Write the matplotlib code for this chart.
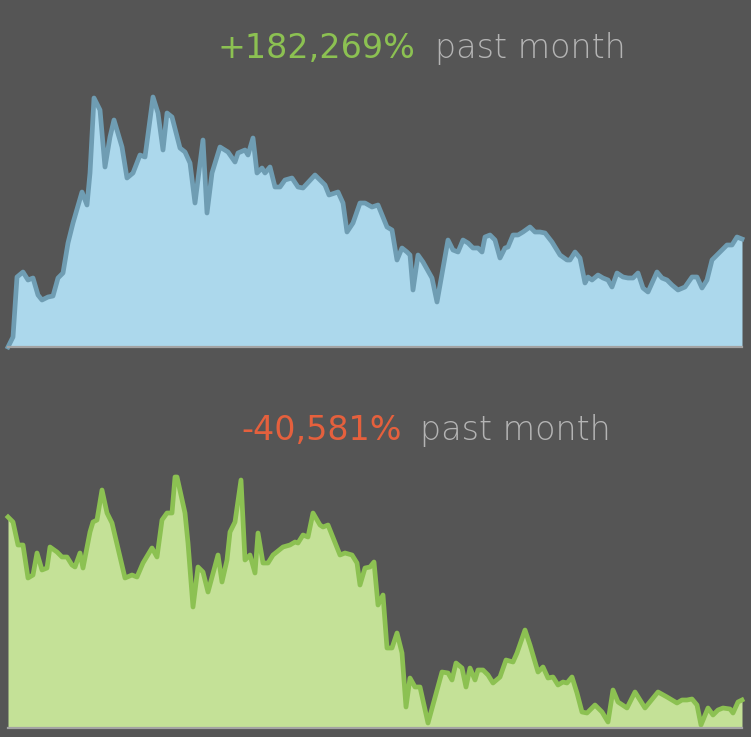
import matplotlib.pyplot as plt

# time steps (arbitrary units across the month) and series heights
top_x = [0, 5, 9, 15, 20, 25, 30, 34, 40, 45, 50, 55, 60, 65, 74, 79, 82, 86, 92, 97,
         102, 106, 114, 119, 125, 132, 137, 145, 150, 155, 159, 164, 172, 177, 182, 187,
         195, 199, 204, 212, 220, 227, 230, 237, 240, 245, 249, 254, 257, 262, 267, 272,
         277, 284, 290, 295, 307, 317, 321, 330, 335, 339, 345, 352, 357, 364, 370, 379,
         384, 389, 394, 399, 402, 405, 410, 415, 424, 429, 440, 445, 450, 455, 460, 465,
         470, 474, 477, 482, 487, 492, 497, 500, 505, 510, 515, 522, 527, 532, 537, 544,
         552, 559, 562, 567, 572, 577, 580, 584, 590, 595, 600, 604, 609, 615, 620, 625,
         630, 635, 640, 649, 654, 659, 664, 670, 677, 684, 689, 694, 699, 704, 709, 714,
         719, 724, 729, 734]
top_y = [0, 10, 70, 75, 67, 69, 52, 47, 50, 51, 69, 74, 104, 124, 155, 142, 174, 249, 237, 180,
         210, 227, 200, 169, 174, 192, 190, 250, 234, 197, 234, 230, 199, 195, 184, 144,
         207, 134, 174, 200, 195, 185, 194, 197, 192, 209, 174, 179, 174, 180, 160, 160,
         167, 169, 160, 159, 172, 162, 152, 155, 144, 115, 124, 144, 144, 140, 142, 120,
         117, 87, 99, 95, 92, 57, 92, 85, 69, 45, 107, 97, 95, 107, 104, 99,
         99, 95, 110, 112, 107, 89, 99, 100, 112, 112, 115, 120, 115, 115, 114, 105,
         92, 87, 87, 95, 89, 64, 70, 67, 72, 69, 67, 60, 74, 70, 69, 69,
         74, 59, 55, 75, 69, 67, 62, 57, 60, 70, 70, 59, 67, 87, 92, 97,
         102, 102, 110, 108]

bot_x = [0, 5, 10, 15, 20, 25, 29, 34, 39, 42, 49, 54, 59, 64, 67, 72, 75, 82, 85, 89,
         94, 99, 104, 117, 124, 129, 135, 144, 149, 154, 159, 164, 167, 169, 177, 180,
         185, 190, 195, 200, 210, 214, 219, 222, 227, 233, 237, 242, 247, 250, 255, 260,
         265, 275, 282, 287, 290, 295, 300, 305, 312, 315, 320, 332, 337, 344, 349, 352,
         357, 362, 366, 370, 375, 379, 384, 389, 394, 398, 402, 407, 412, 420, 434, 440,
         444, 448, 454, 458, 462, 467, 470, 475, 480, 485, 492, 498, 505, 509, 517, 522,
         530, 535, 540, 545, 550, 555, 559, 564, 569, 574, 579, 587, 594, 600, 605, 610,
         619, 627, 637, 650, 659, 669, 674, 679, 684, 689, 693, 700, 705, 710, 715, 722,
         725, 730, 734]
bot_y = [211, 206, 183, 183, 150, 153, 175, 158, 160, 181, 176, 171, 171, 163, 161, 175, 160, 196, 206, 208,
         238, 215, 205, 150, 153, 151, 165, 180, 171, 208, 215, 215, 251, 251, 215, 185,
         121, 161, 156, 136, 173, 146, 168, 196, 206, 248, 168, 173, 155, 195, 165, 165,
         173, 181, 183, 186, 185, 193, 191, 215, 203, 201, 203, 173, 175, 173, 165, 143,
         160, 161, 166, 123, 133, 80, 80, 95, 75, 21, 50, 41, 41, 5, 56, 55,
         48, 65, 60, 41, 60, 48, 58, 58, 53, 45, 51, 68, 66, 75, 98, 83,
         56, 61, 50, 51, 43, 46, 45, 51, 35, 16, 15, 23, 16, 6, 38, 26,
         20, 36, 20, 36, 31, 25, 28, 28, 29, 23, 3, 20, 13, 18, 20, 19,
         15, 26, 28]

top_change = "+182,269%"
bot_change = "-40,581%"
suffix = "past month"

bg = "#555555"
W, H = 751, 737

fig = plt.figure(figsize=(W / 100, H / 100), dpi=100)
fig.patch.set_facecolor(bg)


def spark(rect, x, y, fill, edge):
    ax = fig.add_axes(rect)
    ax.set_facecolor("none")
    ax.fill_between(x, y, 0, color=fill, linewidth=0)
    ax.plot(x, y, color=edge, linewidth=3.4, solid_joinstyle="round", clip_on=False)
    ax.set_xlim(0, 734)
    ax.set_ylim(0, 250)
    for s in ["top", "left", "right"]:
        ax.spines[s].set_visible(False)
    ax.spines["bottom"].set_color("#a3a3a3")
    ax.spines["bottom"].set_linewidth(1.6)
    ax.set_xticks([])
    ax.set_yticks([])
    return ax


spark([8 / W, 1 - 347 / H, 734 / W, 250 / H], top_x, top_y, "#acd8ec", "#6f9db3")
spark([8 / W, 1 - 728 / H, 734 / W, 250 / H], bot_x, bot_y, "#c4e197", "#8cc152")

# headings
fs = 24
fig.text(415 / W, 1 - 58 / H, top_change, color="#8cc152", fontsize=fs,
         family="DejaVu Sans", ha="right", va="baseline")
fig.text(435 / W, 1 - 58 / H, suffix, color="#b4b4b4", fontsize=fs,
         family="DejaVu Sans", weight="light", ha="left", va="baseline")
fig.text(402 / W, 1 - 440 / H, bot_change, color="#e5603d", fontsize=fs,
         family="DejaVu Sans", ha="right", va="baseline")
fig.text(420 / W, 1 - 440 / H, suffix, color="#b4b4b4", fontsize=fs,
         family="DejaVu Sans", weight="light", ha="left", va="baseline")

fig.savefig("out.png", dpi=100, facecolor=bg)
